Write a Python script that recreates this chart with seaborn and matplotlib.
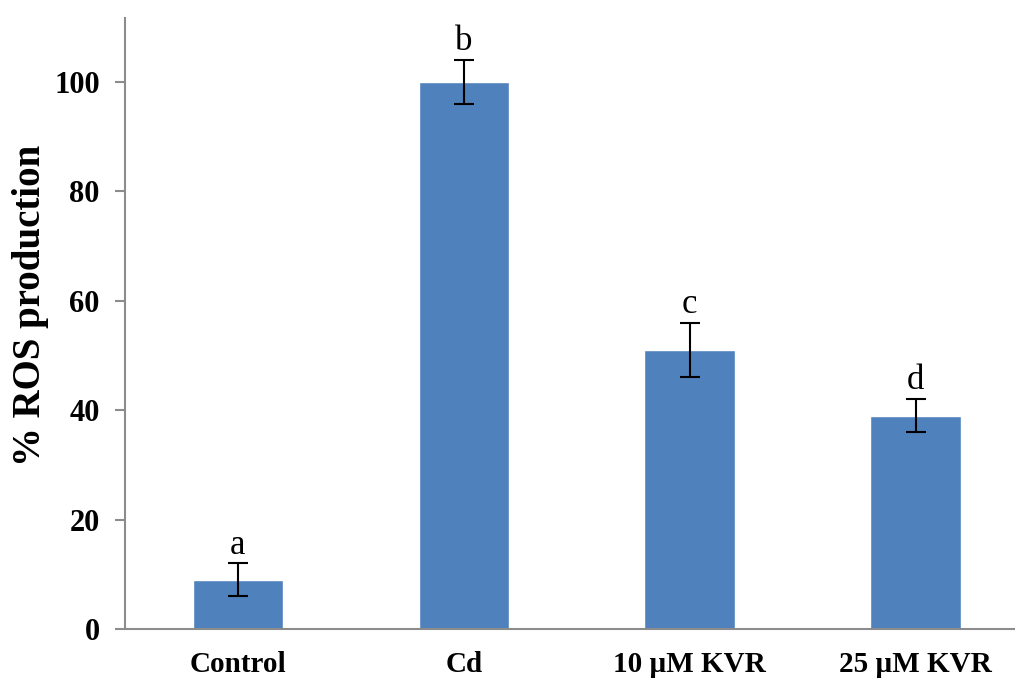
import pandas as pd
import matplotlib
matplotlib.use("Agg")
import matplotlib.pyplot as plt
import seaborn as sns

# Дані з рисунка
groups = ["Control", "Cd", "10 µM KVR", "25 µM KVR"]
ros_values = [9, 100, 51, 39]
ros_errors = [3, 4, 5, 3]
sig_letters = ["a", "b", "c", "d"]

df = pd.DataFrame({"group": groups, "ros": ros_values})

sns.set_style("white")
plt.rcParams["font.family"] = ["Liberation Serif", "DejaVu Serif"]
plt.rcParams["text.color"] = "black"
plt.rcParams["xtick.color"] = "black"
plt.rcParams["ytick.color"] = "black"
plt.rcParams["axes.labelcolor"] = "black"

fig = plt.figure(figsize=(10.15, 6.79), dpi=100)
ax = fig.add_axes([0.123, 0.0736, 0.877, 0.90])

sns.barplot(data=df, x="group", y="ros", color="#4F81BD", saturation=1,
            width=0.4, errorbar=None, ax=ax)

xpos = ax.get_xticks()
ax.errorbar(xpos, ros_values, yerr=ros_errors, fmt="none", ecolor="black",
            elinewidth=1.5, capsize=7, capthick=1.5)

# літери значущості над планками похибок
for x, v, e, lab in zip(xpos, ros_values, ros_errors, sig_letters):
    ax.text(x, v + e + 1.8, lab, ha="center", va="baseline", fontsize=25)

ax.set_xlim(-0.5, 3.44)
ax.set_ylim(0, 111.7)
ax.set_yticks([0, 20, 40, 60, 80, 100])

for side in ["top", "right"]:
    ax.spines[side].set_visible(False)
for side in ["left", "bottom"]:
    ax.spines[side].set_color("#8c8c8c")
    ax.spines[side].set_linewidth(1.5)

ax.tick_params(axis="y", direction="out", length=7, width=1.5, color="#8c8c8c",
               labelcolor="black", left=True, pad=11, labelsize=22)
ax.tick_params(axis="x", length=0, pad=16, labelsize=21, labelcolor="black")
for t in ax.get_xticklabels() + ax.get_yticklabels():
    t.set_fontweight("bold")

ax.set_xlabel("")
ax.set_ylabel("% ROS production", fontsize=28, fontweight="bold")
ax.yaxis.set_label_coords(-0.085, 0.53)

fig.savefig("out.png", dpi=100)
plt.close(fig)
